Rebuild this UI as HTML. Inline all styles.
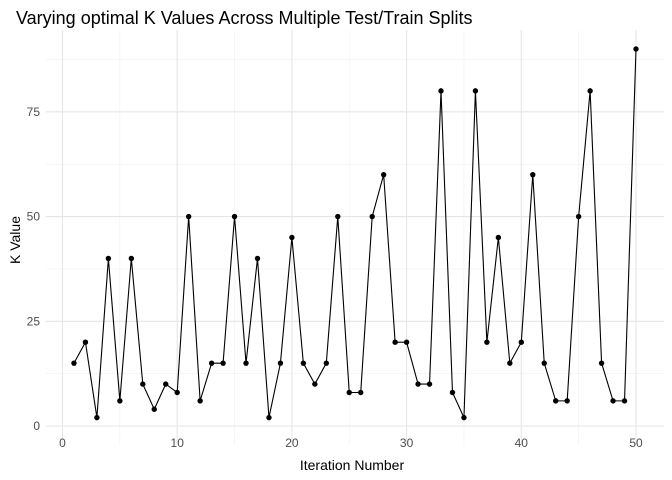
<!DOCTYPE html>
<html><head><meta charset="utf-8"><style>body{margin:0;background:#fff}svg{display:block;font-family:"Liberation Sans",sans-serif}</style></head>
<body>
<svg id="c" width="672" height="480">
<text x="16" y="24" font-size="18" fill="#000">Varying optimal K Values Across Multiple Test/Train Splits</text>
<text x="352" y="470" font-size="14" text-anchor="middle">Iteration Number</text>
<text transform="translate(20,240) rotate(-90)" font-size="14" text-anchor="middle">K Value</text>
<g id="grid"></g><g id="ticks"></g><g id="marks"></g>
</svg>
<script>
const iterations=[1,2,3,4,5,6,7,8,9,10,11,12,13,14,15,16,17,18,19,20,21,22,23,24,25,26,27,28,29,30,31,32,33,34,35,36,37,38,39,40,41,42,43,44,45,46,47,48,49,50];
const kValues=[15,20,2,40,6,40,10,4,10,8,50,6,15,15,50,15,40,2,15,45,15,10,15,50,8,8,50,60,20,20,10,10,80,8,2,80,20,45,15,20,60,15,6,6,50,80,15,6,6,90];
const xTicks=[0,10,20,30,40,50];
const yTicks=[0,25,50,75];
const NS="http://www.w3.org/2000/svg";
const xmin=-1.45,xmax=52.45,ymin=-4.5,ymax=94.5;
const X=v=>62.5+v*11.47;
const Y=v=>426-v*4.189;
const L=X(xmin),R=X(xmax),T=Y(ymax),B=Y(ymin);
function mk(t,a,p){const e=document.createElementNS(NS,t);for(const k in a)e.setAttribute(k,a[k]);p.appendChild(e);return e;}
const g=document.getElementById('grid'),tk=document.getElementById('ticks'),m=document.getElementById('marks');
for(let v=5;v<xmax;v+=10){const e=mk('line',{x1:X(v),x2:X(v),y1:T,y2:B,stroke:'#f0f0f0','stroke-width':0.6},g);}
for(let v=12.5;v<ymax;v+=25){const e=mk('line',{x1:L,x2:R,y1:Y(v),y2:Y(v),stroke:'#f0f0f0','stroke-width':0.6},g);}
xTicks.forEach(v=>{const e=mk('line',{x1:X(v),x2:X(v),y1:T,y2:B,stroke:'#e6e6e6','stroke-width':1.1},g);
const t=mk('text',{x:X(v),y:447,'font-size':12,fill:'#4d4d4d','text-anchor':'middle'},tk);t.textContent=v;});
yTicks.forEach(v=>{const e=mk('line',{x1:L,x2:R,y1:Y(v),y2:Y(v),stroke:'#e6e6e6','stroke-width':1.1},g);
const t=mk('text',{x:40,y:Y(v)+4,'font-size':12,fill:'#4d4d4d','text-anchor':'end'},tk);t.textContent=v;});
const line=mk('polyline',{points:iterations.map((x,i)=>X(x)+','+Y(kValues[i])).join(' '),fill:'none',stroke:'#000','stroke-width':1.1},m);


iterations.forEach((x,i)=>{const c=mk('circle',{cx:X(x),cy:Y(kValues[i]),r:2.7,fill:'#000'},m);

});
</script>
</body></html>
